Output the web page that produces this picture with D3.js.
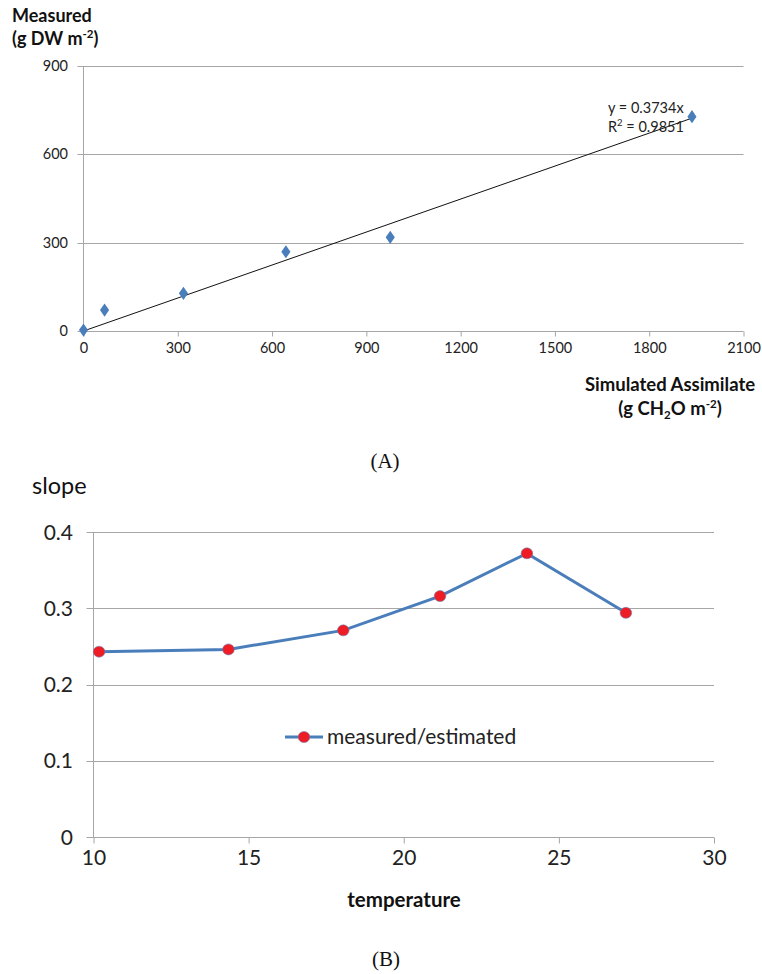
<!DOCTYPE html>
<html>
<head>
<meta charset="utf-8">
<script src="https://cdn.jsdelivr.net/npm/d3@7.9.0/dist/d3.min.js"></script>
<style>
  body { margin: 0; background: #fff; }
  svg { display: block; font-family: Lato, "Open Sans", sans-serif; }
  .grid line, .axis line, .axis path { stroke: #a6a6a6; }
</style>
</head>
<body>
<svg id="chart" width="762" height="974"></svg>
<script>
// panel A: measured vs simulated assimilate
const assimilate = [0, 67, 318, 644, 976, 1936];
const measured = [3, 71, 128, 269, 318, 728];
const slopeA = 0.3734;
const r2A = 0.9851;
const xTicksA = [0, 300, 600, 900, 1200, 1500, 1800, 2100];
const yTicksA = [0, 300, 600, 900];

// panel B: slope vs temperature
const temperature = [10.18, 14.35, 18.05, 21.17, 23.97, 27.16];
const slopeB = [0.243, 0.246, 0.271, 0.316, 0.372, 0.294];
const xTicksB = [10, 15, 20, 25, 30];
const yTicksB = [0, 0.1, 0.2, 0.3, 0.4];

const svg = d3.select('#chart');
const blue = '#4a7ebb';

// ---------- A ----------
const xA = d3.scaleLinear().domain([0, 2100]).range([83.5, 743.5]);
const yA = d3.scaleLinear().domain([0, 900]).range([331, 66]);
const gA = svg.append('g');

gA.append('g').attr('class', 'grid')
  .selectAll('line').data(yTicksA).join('line')
  .attr('x1', xA(0) - 6).attr('x2', xA(2100))
  .attr('y1', d => Math.round(yA(d)) + 0.5).attr('y2', d => Math.round(yA(d)) + 0.5);

gA.append('line').attr('class', 'axis')
  .attr('x1', xA(0)).attr('x2', xA(0)).attr('y1', yA(900)).attr('y2', yA(0))
  .attr('stroke', '#a6a6a6');

const axA = gA.append('g').attr('class', 'axis')
  .attr('transform', `translate(0,${Math.round(yA(0)) + 0.5})`)
  .call(d3.axisBottom(xA).tickValues(xTicksA).tickFormat(d3.format('d'))
    .tickSize(5).tickSizeOuter(0).tickPadding(6));
axA.select('.domain').remove();
axA.selectAll('text').attr('font-size', 14.5).attr('fill', '#222').attr('font-family', 'Lato, sans-serif');

gA.append('g').selectAll('text').data(yTicksA).join('text')
  .attr('x', 68).attr('y', d => yA(d) + 5)
  .attr('text-anchor', 'end').attr('font-size', 14.5).attr('fill', '#222')
  .text(d => d);

// trend line
gA.append('line')
  .attr('x1', xA(0)).attr('y1', yA(0))
  .attr('x2', xA(d3.max(assimilate))).attr('y2', yA(slopeA * d3.max(assimilate)))
  .attr('stroke', '#111').attr('stroke-width', 1);

const diamond = d3.symbol().type(d3.symbolDiamond).size(50);
gA.append('g').selectAll('path').data(assimilate).join('path')
  .attr('d', diamond)
  .attr('transform', (d, i) => `translate(${xA(d)},${yA(measured[i])}) scale(1.2,1)`)
  .attr('fill', blue);

gA.append('text').attr('x', 608).attr('y', 113).attr('font-size', 14.5).attr('fill', '#222')
  .text(`y = ${slopeA}x`);
const r2t = gA.append('text').attr('x', 608).attr('y', 132).attr('font-size', 14.5).attr('fill', '#222');
r2t.append('tspan').text('R');
r2t.append('tspan').attr('dy', -6).attr('font-size', 9.5).text('2');
r2t.append('tspan').attr('dy', 6).text(` = ${r2A}`);

// axis titles A
svg.append('text').attr('x', 12).attr('y', 22).attr('font-size', 18).attr('font-weight', 'bold').attr('fill', '#111')
  .text('Measured');
const tA2 = svg.append('text').attr('x', 12).attr('y', 45).attr('font-size', 18).attr('font-weight', 'bold').attr('fill', '#111');
tA2.append('tspan').text('(g DW m');
tA2.append('tspan').attr('dy', -7).attr('font-size', 11.5).text('-2');
tA2.append('tspan').attr('dy', 7).text(')');

svg.append('text').attr('x', 670).attr('y', 391).attr('text-anchor', 'middle')
  .attr('font-size', 18.5).attr('font-weight', 'bold').attr('fill', '#111').text('Simulated Assimilate');
const tX2 = svg.append('text').attr('x', 670).attr('y', 415).attr('text-anchor', 'middle')
  .attr('font-size', 18.5).attr('font-weight', 'bold').attr('fill', '#111');
tX2.append('tspan').text('(g CH');
tX2.append('tspan').attr('dy', 4).attr('font-size', 11.5).text('2');
tX2.append('tspan').attr('dy', -4).text('O m');
tX2.append('tspan').attr('dy', -7).attr('font-size', 11.5).text('-2');
tX2.append('tspan').attr('dy', 7).text(')');

svg.append('text').attr('x', 385).attr('y', 468).attr('text-anchor', 'middle')
  .attr('font-family', '"Liberation Serif", serif').attr('font-size', 21).attr('fill', '#111').text('(A)');

// ---------- B ----------
const xB = d3.scaleLinear().domain([10, 30]).range([93.5, 714]);
const yB = d3.scaleLinear().domain([0, 0.4]).range([837, 532]);
const gB = svg.append('g');

gB.append('g').attr('class', 'grid')
  .selectAll('line').data(yTicksB).join('line')
  .attr('x1', xB(10) - 7).attr('x2', xB(30))
  .attr('y1', d => Math.round(yB(d)) + 0.5).attr('y2', d => Math.round(yB(d)) + 0.5);

gB.append('line').attr('x1', xB(10)).attr('x2', xB(10)).attr('y1', yB(0.4)).attr('y2', yB(0))
  .attr('stroke', '#a6a6a6');

const axB = gB.append('g').attr('class', 'axis')
  .attr('transform', `translate(0,${Math.round(yB(0)) + 0.5})`)
  .call(d3.axisBottom(xB).tickValues(xTicksB).tickSize(6).tickSizeOuter(0).tickPadding(7));
axB.select('.domain').remove();
axB.selectAll('text').attr('font-size', 21).attr('fill', '#222').attr('font-family', 'Lato, sans-serif');

gB.append('g').selectAll('text').data(yTicksB).join('text')
  .attr('x', 73).attr('y', d => yB(d) + 7.5)
  .attr('text-anchor', 'end').attr('font-size', 21).attr('fill', '#222')
  .text(d => d);

const line = d3.line().x((d, i) => xB(d)).y((d, i) => yB(slopeB[i]));
gB.append('path').datum(temperature).attr('d', line)
  .attr('fill', 'none').attr('stroke', blue).attr('stroke-width', 3);

gB.append('g').selectAll('ellipse').data(temperature).join('ellipse')
  .attr('cx', d => xB(d)).attr('cy', (d, i) => yB(slopeB[i]))
  .attr('rx', 5.8).attr('ry', 5.5)
  .attr('fill', '#ee1c25').attr('stroke', '#6f7fb0').attr('stroke-width', 0.6);

// legend
const lg = gB.append('g');
lg.append('line').attr('x1', 285).attr('x2', 323).attr('y1', 737).attr('y2', 737)
  .attr('stroke', blue).attr('stroke-width', 3);
lg.append('ellipse').attr('cx', 304).attr('cy', 737).attr('rx', 5.8).attr('ry', 5.5)
  .attr('fill', '#ee1c25').attr('stroke', '#6f7fb0').attr('stroke-width', 0.6);
lg.append('text').attr('x', 327).attr('y', 744).attr('font-size', 21).attr('fill', '#222')
  .text('measured/estimated');

svg.append('text').attr('x', 32).attr('y', 494).attr('font-size', 23.5).attr('fill', '#111').text('slope');
svg.append('text').attr('x', 404).attr('y', 907).attr('text-anchor', 'middle')
  .attr('font-size', 20.5).attr('font-weight', 'bold').attr('fill', '#111').text('temperature');

svg.append('text').attr('x', 386).attr('y', 966).attr('text-anchor', 'middle')
  .attr('font-family', '"Liberation Serif", serif').attr('font-size', 21).attr('fill', '#111').text('(B)');
</script>
</body>
</html>
